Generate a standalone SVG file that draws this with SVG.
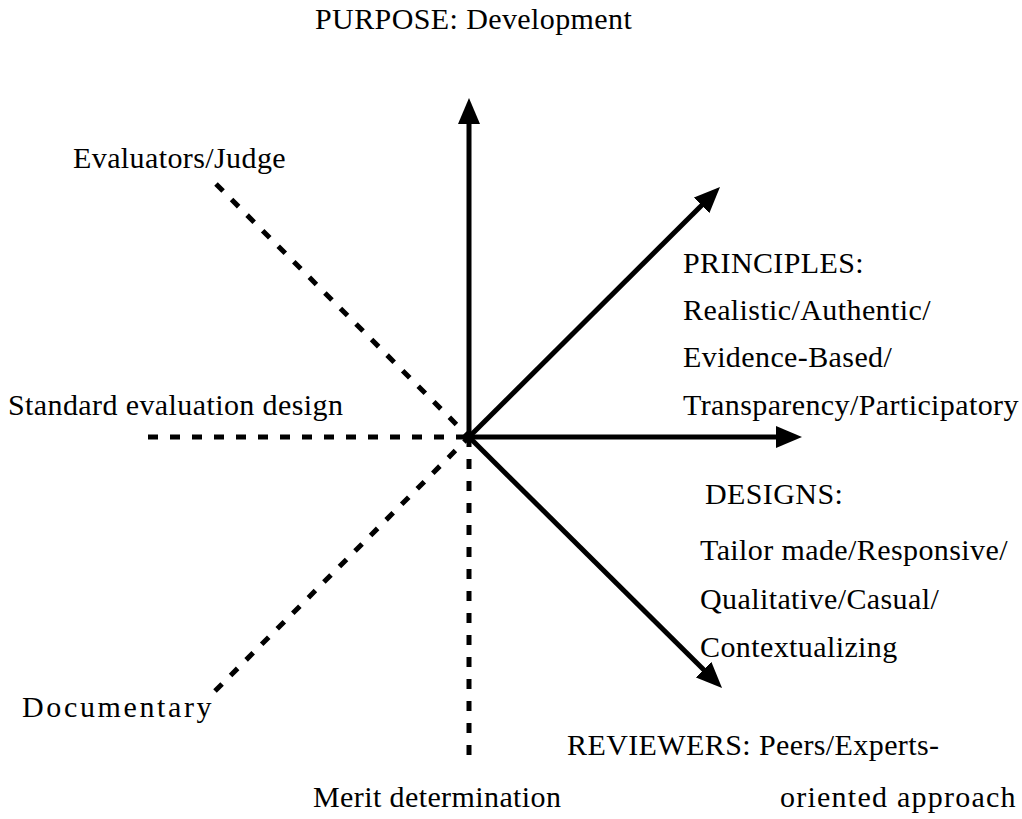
<svg xmlns="http://www.w3.org/2000/svg" width="1022" height="819" viewBox="0 0 1022 819">
<style>
text{font-family:"Liberation Serif","Times New Roman",serif;font-size:30px;letter-spacing:0.4px;fill:#000}
.arrow{stroke:#000;stroke-width:5;fill:none}
.dash{stroke:#000;stroke-width:5;fill:none;stroke-dasharray:10 12}
</style>
<defs>
<marker id="ah" markerUnits="userSpaceOnUse" markerWidth="26" markerHeight="22" refX="2" refY="11" orient="auto">
<path d="M0,0 L26,11 L0,22 z" fill="#000"/>
</marker>
</defs>
<rect width="1022" height="819" fill="#fff"/>
<g id="connectors">
<line class="arrow" x1="469" y1="437" x2="469" y2="122" marker-end="url(#ah)"/>
<line class="arrow" x1="469" y1="437" x2="703" y2="204" marker-end="url(#ah)"/>
<line class="arrow" x1="469" y1="437" x2="778" y2="437" marker-end="url(#ah)"/>
<line class="arrow" x1="469" y1="437" x2="705" y2="671" marker-end="url(#ah)"/>
<line class="dash" x1="216" y1="184" x2="469" y2="437"/>
<line class="dash" x1="148" y1="437" x2="469" y2="437"/>
<line class="dash" x1="215" y1="691" x2="469" y2="437"/>
<line class="dash" x1="469" y1="755" x2="469" y2="437"/>
</g>
<g id="purpose"><text x="315" y="29">PURPOSE: Development</text></g>
<g id="evaluators"><text x="73" y="168">Evaluators/Judge</text></g>
<g id="principles">
<text x="683" y="273">PRINCIPLES:</text>
<text x="683" y="320">Realistic/Authentic/</text>
<text x="683" y="367">Evidence-Based/</text>
<text x="683" y="415">Transparency/Participatory</text>
</g>
<g id="standard"><text x="8" y="415">Standard evaluation design</text></g>
<g id="designs">
<text x="705" y="504">DESIGNS:</text>
<text x="700" y="560">Tailor made/Responsive/</text>
<text x="700" y="609">Qualitative/Casual/</text>
<text x="700" y="657">Contextualizing</text>
</g>
<g id="documentary"><text x="22" y="717" textLength="190" lengthAdjust="spacing">Documentary</text></g>
<g id="reviewers">
<text x="567" y="755">REVIEWERS: Peers/Experts-</text>
<text x="780" y="807" textLength="236" lengthAdjust="spacing">oriented approach</text>
</g>
<g id="merit"><text x="313" y="807">Merit determination</text></g>
</svg>
